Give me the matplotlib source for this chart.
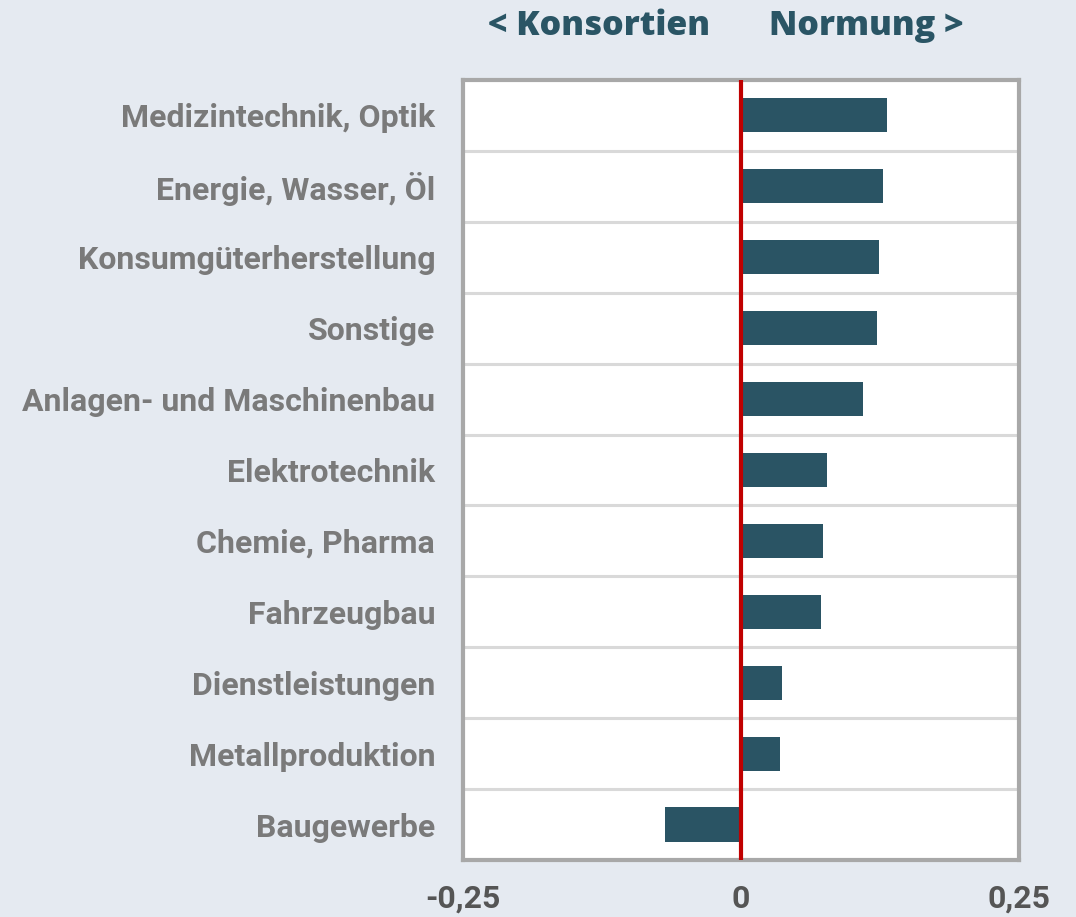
import numpy as np
import matplotlib
matplotlib.use("Agg")
from matplotlib import pyplot as plt

categories = ["Medizintechnik, Optik", "Energie, Wasser, Öl", "Konsumgüterherstellung",
              "Sonstige", "Anlagen- und Maschinenbau", "Elektrotechnik", "Chemie, Pharma",
              "Fahrzeugbau", "Dienstleistungen", "Metallproduktion", "Baugewerbe"]
values = [0.131, 0.128, 0.124, 0.122, 0.110, 0.077, 0.074, 0.072, 0.037, 0.035, -0.068]
xticks = [-0.25, 0, 0.25]
xtick_labels = ["-0,25", "0", "0,25"]

bg = "#e5eaf1"
bar_col = "#2a5464"

fig = plt.figure(figsize=(10.76, 9.17), dpi=100, facecolor=bg)
ax = fig.add_axes([0.4303, 0.0622, 0.5167, 0.8506])
ax.set_facecolor("white")

y = np.arange(len(categories))
ax.barh(y, values, height=0.48, color=bar_col, zorder=3)
ax.axvline(0, color="#c00000", lw=3, zorder=4)

ax.set_xlim(-0.25, 0.25)
ax.set_ylim(len(categories) - 0.5, -0.5)

ax.set_yticks(y)
ax.set_yticklabels(categories, fontfamily="Roboto", fontweight="bold", fontsize=23, color="#7a7a7a")
ax.set_yticks(np.arange(len(categories) - 1) + 0.5, minor=True)
ax.grid(which="minor", axis="y", color="#d9d9d9", lw=2.2, zorder=1)
ax.tick_params(axis="y", which="both", length=0, pad=20)

ax.set_xticks(xticks)
ax.set_xticklabels(xtick_labels, fontfamily="Roboto", fontweight="bold", fontsize=23, color="#555555")
ax.tick_params(axis="x", length=0, pad=17)

for s in ax.spines.values():
    s.set_color("#a8a8a8")
    s.set_linewidth(3)

ax.annotate("< Konsortien", xy=(0, 1), xycoords=("data", "axes fraction"),
            xytext=(-22, 39), textcoords="offset points", ha="right", va="center",
            fontfamily="Open Sans", fontweight=800, fontsize=24.5, color="#2a5565")
ax.annotate("Normung >", xy=(0, 1), xycoords=("data", "axes fraction"),
            xytext=(20, 39), textcoords="offset points", ha="left", va="center",
            fontfamily="Open Sans", fontweight=800, fontsize=24.5, color="#2a5565")

fig.savefig("out.png", dpi=100, facecolor=bg)
